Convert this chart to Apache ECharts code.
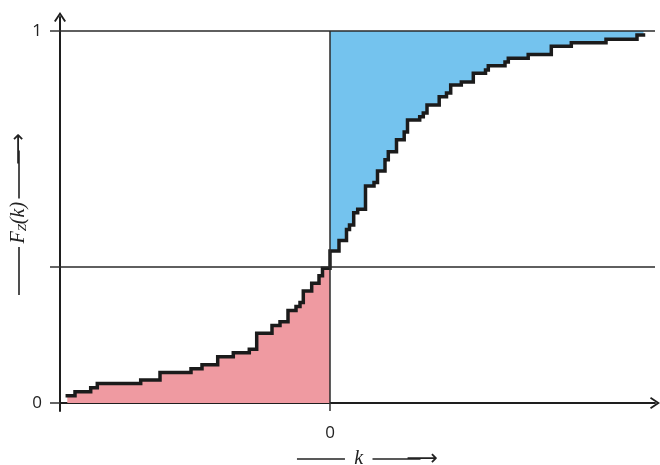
<!DOCTYPE html>
<html>
<head>
<meta charset="utf-8">
<script src="https://cdn.jsdelivr.net/npm/echarts@6/dist/echarts.min.js"></script>
<style>html,body{margin:0;padding:0;background:#fff}#c{width:660px;height:465px}</style>
</head>
<body>
<div id="c"></div>
<script>
// Empirical distribution function F_Z(k): step positions (k) and values (F)
const kNeg = [-2.627,-2.55,-2.393,-2.327,-1.893,-1.70,-1.39,-1.28,-1.123,-0.967,-0.807,-0.733,-0.58,-0.50,-0.42,-0.34,-0.30,-0.267,-0.183,-0.11,-0.075];
const fNeg = [0.0196,0.0304,0.0411,0.0524,0.0618,0.0820,0.0922,0.1030,0.1245,0.1352,0.1446,0.1874,0.2083,0.2185,0.2487,0.2594,0.2702,0.3011,0.3218,0.3419,0.3621];
const kPos = [0,0.09,0.165,0.195,0.237,0.277,0.355,0.44,0.475,0.55,0.583,0.665,0.742,0.775,0.897,0.933,0.97,1.092,1.165,1.207,1.313,1.433,1.555,1.583,1.75,1.783,1.982,2.213,2.413,2.76,3.07,3.135];
const fPos = [0.4086,0.4368,0.4664,0.4785,0.5116,0.5207,0.5833,0.5927,0.6237,0.6540,0.6755,0.7078,0.7285,0.7608,0.7696,0.7796,0.8011,0.8234,0.8333,0.8548,0.8629,0.8863,0.8952,0.9065,0.9167,0.9269,0.9366,0.9589,0.9685,0.9780,0.9892,0.9892];
const crossLevel = 0.366;   // horizontal reference level
const yTicks = [0, crossLevel, 1];
const yTickLabels = {0:'0', 1:'1'};
const xTicks = [0];
const xMin = -2.7, xMax = 3.25;

const negData = kNeg.map((k,i)=>[k,fNeg[i]]);
negData.push([0, fNeg[fNeg.length-1]]);
const posData = kPos.map((k,i)=>[k,fPos[i]]);
const allData = kNeg.map((k,i)=>[k,fNeg[i]]).concat(posData);

const chevron = 'path://M0,9 L6,0 L12,9 L10.4,10 L6,3.2 L1.6,10 Z';
const axisColor = '#1e1e1e';

const chart = echarts.init(document.getElementById('c'), null, {renderer:'canvas'});
chart.setOption({
  animation:false,
  grid:{left:60,right:5,top:17,bottom:54,outerBoundsMode:'none',containLabel:false},
  xAxis:{
    type:'value', min:xMin, max:xMax,
    axisLine:{onZero:true, lineStyle:{color:axisColor,width:2}, symbol:['none',chevron], symbolSize:[12,10]},
    axisTick:{customValues:xTicks, length:8, lineStyle:{color:'#333',width:1.5}},
    axisLabel:{customValues:xTicks, margin:14, fontSize:17, color:'#222', fontFamily:'Open Sans'},
    splitLine:{show:false},
    name:'{l|} {k|k} {l|}{a|⟶}',
    nameLocation:'middle', nameGap:37, nameMoveOverlap:false,
    nameTextStyle:{
      padding:[0,0,0,20],
      rich:{
        l:{width:48,height:1.6,backgroundColor:'#222'},
        k:{fontFamily:'Liberation Serif',fontStyle:'italic',fontSize:20,color:'#222',padding:[0,6,0,6]},
        a:{fontFamily:'DejaVu Sans',fontSize:22,color:'#222',padding:[0,0,0,-14]}
      }
    }
  },
  yAxis:{
    type:'value', min:-0.0215, max:1.0376,
    axisLine:{onZero:false, lineStyle:{color:axisColor,width:2}, symbol:['none',chevron], symbolSize:[12,10]},
    axisTick:{customValues:yTicks, length:10, lineStyle:{color:'#333',width:1.5}},
    axisLabel:{customValues:[0,1], margin:18, fontSize:17, color:'#222', fontFamily:'Open Sans',
      formatter:v=>yTickLabels[v] !== undefined ? yTickLabels[v] : ''},
    splitLine:{show:false},
    name:'{l|} {f|F}{s|Z}{f|(k)} {l|}{a|⟶}',
    nameLocation:'middle', nameRotate:90, nameGap:30, nameMoveOverlap:false,
    nameTextStyle:{
      rich:{
        l:{width:48,height:1.6,backgroundColor:'#222'},
        f:{fontFamily:'Liberation Serif',fontStyle:'italic',fontSize:20,color:'#222'},
        s:{fontFamily:'Liberation Serif',fontStyle:'italic',fontSize:13,color:'#222',padding:[8,0,0,0]},
        a:{fontFamily:'DejaVu Sans',fontSize:22,color:'#222',padding:[0,0,0,-14]}
      }
    }
  },
  series:[
    {type:'line', data:negData, step:'end', symbol:'none', z:1,
     lineStyle:{width:0,opacity:0}, areaStyle:{color:'#ef9aa1',opacity:1,origin:'auto'}},
    {type:'line', data:posData, step:'end', symbol:'none', z:1,
     lineStyle:{width:0,opacity:0}, areaStyle:{color:'#74c3ee',opacity:1,origin:1}},
    {type:'line', data:[], symbol:'none', z:2,
     markLine:{silent:true, symbol:'none', label:{show:false},
       lineStyle:{color:'#2a2a2a',width:1.5,type:'solid'},
       data:[
         [{coord:[xMin,1]},{coord:[xMax,1]}],
         [{coord:[xMin,crossLevel]},{coord:[xMax,crossLevel]}],
         [{coord:[0,0]},{coord:[0,1]}]
       ]}},
    {type:'line', data:allData, step:'end', symbol:'none', z:3,
     lineStyle:{color:'#1b1b1b',width:3.5,join:'miter',cap:'square'}}
  ]
});
</script>
</body>
</html>
